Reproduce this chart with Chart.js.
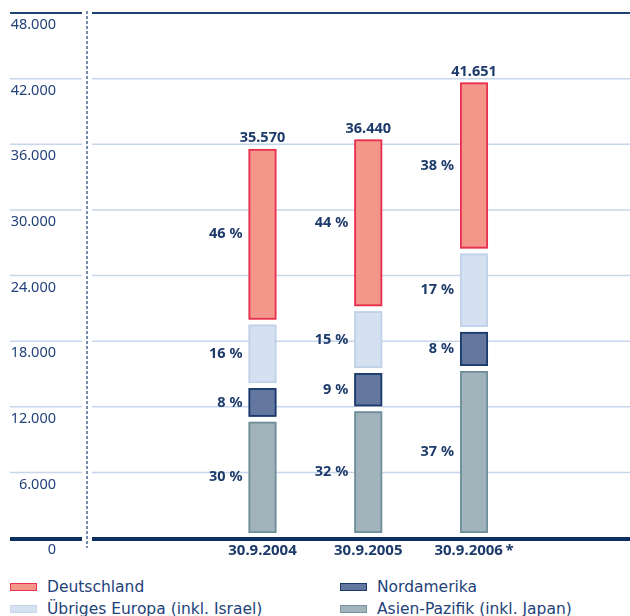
<!DOCTYPE html>
<html>
<head>
<meta charset="utf-8">
<script src="https://cdn.jsdelivr.net/npm/chart.js@4.4.1/dist/chart.umd.min.js"></script>
<style>
  html, body { margin: 0; padding: 0; background: #ffffff; }
  #wrap { position: relative; width: 630px; height: 616px; overflow: hidden; }
  canvas { position: absolute; left: 0; top: 0; }
  .lg { position: absolute; height: 20px; line-height: 20px; font-family: "DejaVu Sans", sans-serif; font-size: 15.5px; color: #23427a; white-space: nowrap; }
  .lg .box { position: absolute; left: 0; top: 5.5px; width: 25px; height: 6px; border-style: solid; border-width: 1.5px; }
  .lg .txt { position: absolute; left: 37px; top: 0; }
</style>
</head>
<body>
<div id="wrap">
  <canvas id="c" width="630" height="570"></canvas>
  <div class="lg" style="left:10px; top:577px;"><span class="box" style="background:#f4968a;border-color:#e8304f"></span><span class="txt">Deutschland</span></div>
  <div class="lg" style="left:340px; top:577px;"><span class="box" style="background:#63779f;border-color:#1b3a6b"></span><span class="txt">Nordamerika</span></div>
  <div class="lg" style="left:10px; top:599px;"><span class="box" style="background:#d5e1f1;border-color:#c6d7ec"></span><span class="txt">Übriges Europa (inkl. Israel)</span></div>
  <div class="lg" style="left:340px; top:599px;"><span class="box" style="background:#a1b4bc;border-color:#77939d"></span><span class="txt">Asien-Pazifik (inkl. Japan)</span></div>
</div>
<script>
// ---- data ----
const categories = ['30.9.2004', '30.9.2005', '30.9.2006\u2009*'];
const asienPazifik = [10630, 11580, 15270];
const nordamerika = [3080, 3500, 3570];
const uebrigesEuropa = [5800, 5660, 7170];
const deutschland = [16060, 15700, 15641];
const totalLabels = ['35.570', '36.440', '41.651'];
const pctAsien = ['30 %', '32 %', '37 %'];
const pctNord = ['8 %', '9 %', '8 %'];
const pctEuropa = ['16 %', '15 %', '17 %'];
const pctDeutschland = ['46 %', '44 %', '38 %'];
const yTickValues = [0, 6000, 12000, 18000, 24000, 30000, 36000, 42000, 48000];
const yTickLabels = ['0', '6.000', '12.000', '18.000', '24.000', '30.000', '36.000', '42.000', '48.000'];

const NAVY = '#1c3a6a';
const GAP = 5;

function seg(label, data, fill, outline, pct) {
  return {
    label, data, backgroundColor: fill,
    borderColor: '#ffffff',
    borderWidth: { top: 0, left: 0, right: 0, bottom: GAP },
    borderSkipped: false,
    inflateAmount: 0,
    barThickness: 28,
    outlineColor: outline,
    pctLabels: pct
  };
}

const decor = {
  id: 'decor',
  beforeDatasetsDraw(chart) {
    const ctx = chart.ctx, y = chart.scales.y;
    ctx.save();
    yTickValues.forEach((v) => {
      if (v === 0) return;
      const py = y.getPixelForValue(v);
      ctx.beginPath();
      if (v === 48000) { ctx.strokeStyle = '#1d4273'; ctx.lineWidth = 2; }
      else { ctx.strokeStyle = '#c6d6ec'; ctx.lineWidth = 1.5; }
      ctx.moveTo(10, py); ctx.lineTo(82, py);
      ctx.moveTo(92, py); ctx.lineTo(630, py);
      ctx.stroke();
    });
    ctx.beginPath();
    ctx.setLineDash([3, 2]);
    ctx.strokeStyle = '#1d4273';
    ctx.lineWidth = 1.2;
    ctx.moveTo(87, 11); ctx.lineTo(87, 548);
    ctx.stroke();
    ctx.setLineDash([]);
    ctx.font = '14.5px "Noto Sans"';
    ctx.fillStyle = '#23427a';
    ctx.textAlign = 'right';
    ctx.textBaseline = 'middle';
    yTickValues.forEach((v, i) => {
      ctx.fillText(yTickLabels[i], 56, y.getPixelForValue(v) + 12);
    });
    ctx.restore();
  },
  afterDatasetsDraw(chart) {
    const ctx = chart.ctx, y = chart.scales.y;
    ctx.save();
    ctx.font = 'bold 14.5px "Noto Sans"';
    ctx.fillStyle = NAVY;
    chart.data.datasets.forEach((ds, di) => {
      const meta = chart.getDatasetMeta(di);
      meta.data.forEach((el, i) => {
        const p = el.getProps(['x', 'y', 'base', 'width'], true);
        const top = Math.min(p.y, p.base);
        const bottom = Math.max(p.y, p.base) - GAP;
        const left = p.x - p.width / 2;
        ctx.strokeStyle = ds.outlineColor;
        ctx.lineWidth = 1.8;
        ctx.strokeRect(left + 0.9, top + 0.9, p.width - 1.8, bottom - top - 1.8);
        ctx.textAlign = 'right';
        ctx.textBaseline = 'middle';
        ctx.fillText(ds.pctLabels[i], left - 6, (top + bottom) / 2);
        if (di === chart.data.datasets.length - 1) {
          ctx.textAlign = 'center';
          ctx.textBaseline = 'middle';
          ctx.fillText(totalLabels[i], p.x, top - 11);
        }
      });
    });
    const py = y.getPixelForValue(0);
    ctx.fillStyle = '#0d2f5f';
    ctx.fillRect(10, py - 1, 72, 4);
    ctx.fillRect(92, py - 1, 538, 4);
    ctx.restore();
  }
};

new Chart(document.getElementById('c'), {
  type: 'bar',
  data: {
    labels: categories,
    datasets: [
      seg('Asien-Pazifik (inkl. Japan)', asienPazifik, '#a1b4bc', '#6f8f9a', pctAsien),
      seg('Nordamerika', nordamerika, '#63779f', '#1b3a6b', pctNord),
      seg('Übriges Europa (inkl. Israel)', uebrigesEuropa, '#d5e1f1', '#bfd2ea', pctEuropa),
      seg('Deutschland', deutschland, '#f4968a', '#e8304f', pctDeutschland)
    ]
  },
  options: {
    responsive: false,
    animation: false,
    layout: { padding: { left: 209.6, right: 103.1, top: 13, bottom: 6 } },
    plugins: { legend: { display: false }, tooltip: { enabled: false } },
    scales: {
      x: {
        stacked: true,
        grid: { display: false, drawTicks: false },
        border: { display: false },
        ticks: { font: { family: 'Noto Sans', weight: 'bold', size: 15 }, color: NAVY, padding: 4 }
      },
      y: { stacked: true, display: false, min: 0, max: 48000 }
    }
  },
  plugins: [decor]
});
</script>
</body>
</html>
